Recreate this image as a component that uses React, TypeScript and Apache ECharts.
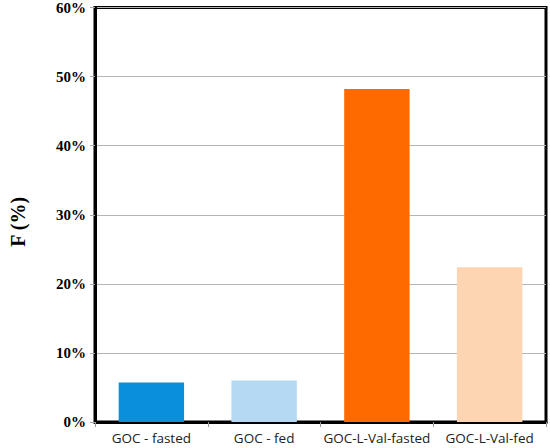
import React, { useEffect, useRef } from "react";
import * as echarts from "echarts";

const categories = ["GOC - fasted", "GOC - fed", "GOC-L-Val-fasted", "GOC-L-Val-fed"];
const values = [5.7, 6.0, 48.2, 22.4];
const colors = ["#0a8fdc", "#b5d9f3", "#ff6a00", "#fdd5b3"];
const yTicks = [0, 10, 20, 30, 40, 50, 60];

export default function App() {
  const ref = useRef<HTMLDivElement>(null);
  useEffect(() => {
    if (!ref.current) return;
    const chart = echarts.init(ref.current, null, { renderer: "svg" });
    chart.setOption({
      animation: false,
      backgroundColor: "#fff",
      grid: {
        left: 87,
        right: 4,
        top: 5,
        bottom: 26,
        show: true,
        borderColor: "#000",
        borderWidth: 3,
      },
      xAxis: {
        type: "category",
        data: categories,
        axisLine: { show: true, lineStyle: { color: "#000", width: 3 } },
        axisTick: { show: true, length: 5, lineStyle: { color: "#999", width: 1 } },
        axisLabel: {
          interval: 0,
          color: "#222",
          fontFamily: "'Open Sans', 'Noto Sans', sans-serif",
          fontSize: 13.5,
          margin: 9,
        },
      },
      yAxis: {
        type: "value",
        min: yTicks[0],
        max: yTicks[yTicks.length - 1],
        interval: 10,
        name: "F (%)",
        nameLocation: "middle",
        nameGap: 67,
        nameTextStyle: {
          fontFamily: "'Liberation Serif', 'Times New Roman', serif",
          fontWeight: "bold",
          fontSize: 20,
          color: "#000",
          padding: [0, 14, 0, 0],
        },
        axisLine: { show: true, lineStyle: { color: "#000", width: 3 } },
        axisTick: { show: true, length: 5, lineStyle: { color: "#aaa", width: 1 } },
        splitLine: { show: true, lineStyle: { color: "#b4b4b4", width: 1 } },
        axisLabel: {
          formatter: "{value}%",
          color: "#000",
          fontFamily: "'Liberation Serif', 'Times New Roman', serif",
          fontWeight: "bold",
          fontSize: 15,
          margin: 9,
        },
      },
      series: [
        {
          type: "bar",
          barWidth: "58%",
          data: values.map((v, i) => ({ value: v, itemStyle: { color: colors[i] } })),
        },
      ],
    });
    return () => chart.dispose();
  }, []);
  return (
    <div
      ref={ref}
      style={{ position: "fixed", left: 0, top: 0, width: 550, height: 448 }}
    />
  );
}
